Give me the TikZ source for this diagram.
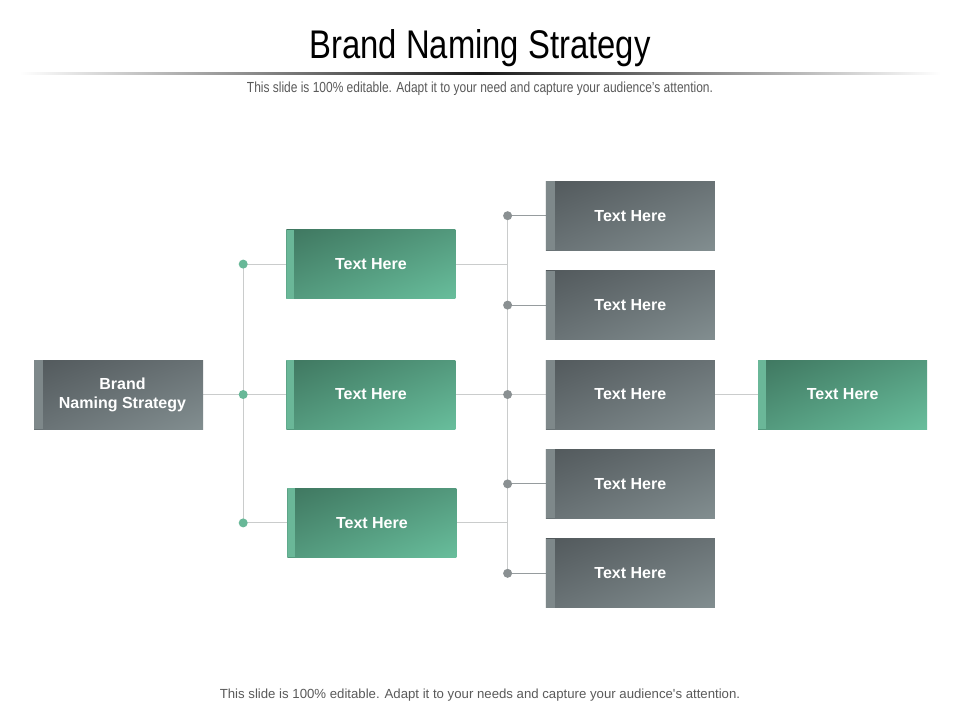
\documentclass[tikz,border=0pt]{standalone}
\usepackage{fontspec}
\setmainfont{Liberation Sans}
\newfontfamily\narrowfont[FakeStretch=0.82]{Liberation Sans}
\usepackage{tikz}
\usetikzlibrary{shapes,arrows,positioning,fit,backgrounds,calc,shadings}
\definecolor{grayDark}{RGB}{82,89,92}
\definecolor{grayMid}{RGB}{105,114,117}
\definecolor{grayLight}{RGB}{130,142,144}
\definecolor{grayStrip}{RGB}{126,136,138}
\definecolor{greenDark}{RGB}{63,119,96}
\definecolor{greenMid}{RGB}{83,153,125}
\definecolor{greenLight}{RGB}{104,190,156}
\definecolor{greenStrip}{RGB}{106,183,152}
\definecolor{wire}{RGB}{202,204,204}
\definecolor{wiredark}{RGB}{150,156,158}
\definecolor{dotgray}{RGB}{138,144,146}
\definecolor{dotgreen}{RGB}{104,184,152}
\definecolor{subgray}{RGB}{90,90,90}
\tikzstyle{box} = [rectangle, minimum width=169pt, minimum height=69pt, inner sep=0pt, text=white, align=center, font=\bfseries\fontsize{16}{19}\selectfont]
\tikzstyle{graybox} = [box, upper left=grayDark, upper right=grayMid, lower left=grayMid, lower right=grayLight, path picture={\fill[grayStrip] (path picture bounding box.north west) rectangle ([xshift=9pt]path picture bounding box.south west);}]
\tikzstyle{greenbox} = [box, upper left=greenDark, upper right=greenMid, lower left=greenMid, lower right=greenLight, path picture={\fill[greenStrip] (path picture bounding box.north west) rectangle ([xshift=8pt]path picture bounding box.south west);}]
\tikzstyle{gdot} = [circle, fill=dotgreen, inner sep=0pt, minimum size=9pt]
\tikzstyle{kdot} = [circle, fill=dotgray, inner sep=0pt, minimum size=9pt]
\tikzstyle{tedge} = [draw=wire, line width=1pt]
\tikzstyle{kedge} = [draw=wiredark, line width=1pt]
\tikzstyle{textonly} = [draw=none, fill=none, text centered]

\begin{document}
\begin{tikzpicture}[x=1pt, y=-1pt, node distance=20pt]

\useasboundingbox (0,0) rectangle (960,720);

% header =================================

\node[textonly, font=\narrowfont\fontsize{40}{44}\selectfont] (title) at (480,48) {Brand Naming Strategy};
\node[textonly, text=subgray, font=\narrowfont\fontsize{14.6}{16}\selectfont] (subtitle) at (480,89) {This slide is 100\% editable. Adapt it to your need and capture your audience’s attention.};
\shade[left color=white, right color=black!90] (20,72) rectangle (480,74);
\shade[left color=black!90, right color=white] (480,72) rectangle (940,74);

% nodes ==================================

\node[graybox] (brand) at (118.5,394.5) {\hspace*{8pt}Brand\\\hspace*{8pt}Naming Strategy};
\node[greenbox, right=83pt of brand] (g2) {Text Here};
\node[greenbox, above=61pt of g2] (g1) {Text Here};
\node[greenbox, below=59pt of g2, xshift=1pt] (g3) {Text Here};

\node[graybox, right=90pt of g2] (t3) {Text Here};
\node[graybox, above=of t3] (t2) {Text Here};
\node[graybox, above=of t2] (t1) {Text Here};
\node[graybox, below=of t3] (t4) {Text Here};
\node[graybox, below=of t4] (t5) {Text Here};

\node[greenbox, right=43pt of t3] (r) {Text Here};

% hubs
\coordinate[right=40pt of brand] (hubA);
\coordinate[right=52pt of g2] (hubB);

\node[gdot] (a1) at (hubA |- g1) {};
\node[gdot] (a2) at (hubA |- g2) {};
\node[gdot] (a3) at (hubA |- g3) {};

\node[kdot] (b1) at (hubB |- t1) {};
\node[kdot] (b2) at (hubB |- t2) {};
\node[kdot] (b3) at (hubB |- t3) {};
\node[kdot] (b4) at (hubB |- t4) {};
\node[kdot] (b5) at (hubB |- t5) {};

\node[textonly, text=subgray, font=\fontsize{13.2}{15}\selectfont] (footer) at (480,695) {This slide is 100\% editable. Adapt it to your needs and capture your audience\textquotesingle s attention.};

% edges ==================================

\begin{scope}[on background layer]
\fill[white] (0,0) rectangle (960,720);
\path[tedge] (a1.center) -- (a3.center);
\path[tedge] (b1.center) -- (b5.center);
\path[tedge] (brand) -- (g2);
\path[tedge] (a1.center) -- (g1);
\path[tedge] (a3.center) -- (g3);
\path[tedge] (g1) -- (g1 -| hubB);
\path[tedge] (g2) -- (b3.center);
\path[tedge] (g3) -- (g3 -| hubB);
\path[kedge] (b1.center) -- (t1);
\path[kedge] (b2.center) -- (t2);
\path[tedge] (b3.center) -- (t3);
\path[kedge] (b4.center) -- (t4);
\path[kedge] (b5.center) -- (t5);
\path[tedge] (t3) -- (r);
\end{scope}

\end{tikzpicture}
\end{document}
